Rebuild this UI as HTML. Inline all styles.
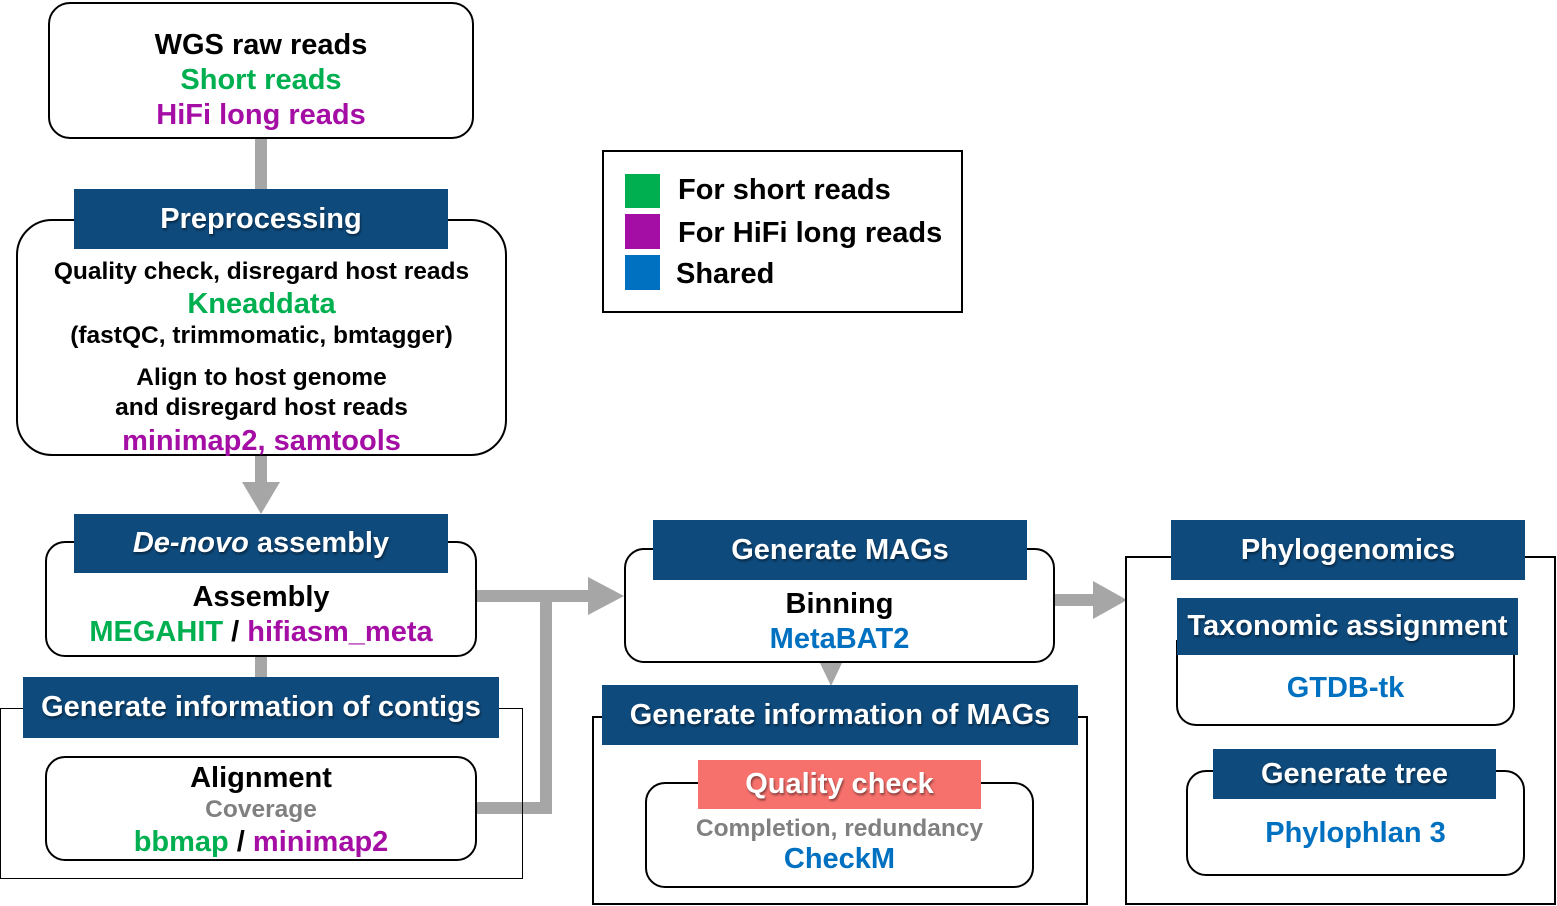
<!DOCTYPE html>
<html><head><style>
body{margin:0;width:1557px;height:906px;background:#fff;position:relative;overflow:hidden;font-family:"Liberation Sans",Arial,sans-serif;font-weight:bold}
.a{position:absolute;box-sizing:border-box}
.rb{border:2px solid #000;background:#fff}
.h{background:#0e4a7c;color:#fff;text-align:center;font-size:29px;text-shadow:1px 2px 2px rgba(0,0,0,.45);display:flex;align-items:center;justify-content:center;white-space:nowrap}
.t{position:absolute;left:0;right:0;text-align:center;white-space:nowrap;line-height:1}
.g{color:#00b050}.p{color:#a50ea5}.b{color:#0070c0}.gr{color:#808080}
.s27{font-size:29px}.s22{font-size:24.5px}
</style></head><body>
<svg class="a" style="left:0;top:0" width="1557" height="906">
<g fill="#a6a6a6">
<rect x="255" y="139" width="12" height="52"/>
<rect x="255" y="456" width="12" height="30"/>
<polygon points="242,482 280,482 261,514"/>
<rect x="255" y="657" width="12" height="22"/>
<rect x="477" y="590" width="115" height="12"/>
<polygon points="588,577 588,615 624,596"/>
<rect x="540" y="596" width="12" height="218"/>
<rect x="477" y="802" width="75" height="12"/>
<rect x="1055" y="594" width="40" height="12"/>
<polygon points="1093,581 1093,619 1127,600"/>
<polygon points="820,663 842,663 831,686"/>
</g></svg>

<div class="a rb" style="left:48px;top:2px;width:426px;height:137px;border-radius:22px">
<div class="t s27" style="top:27px">WGS raw reads</div>
<div class="t s27 g" style="top:62px">Short reads</div>
<div class="t s27 p" style="top:97px">HiFi long reads</div></div>

<div class="a rb" style="left:16px;top:219px;width:491px;height:237px;border-radius:36px">
<div class="t s22" style="top:39px">Quality check, disregard host reads</div>
<div class="t s27 g" style="top:69px">Kneaddata</div>
<div class="t s22" style="top:103px">(fastQC, trimmomatic, bmtagger)</div>
<div class="t s22" style="top:145px">Align to host genome</div>
<div class="t s22" style="top:175px">and disregard host reads</div>
<div class="t s27 p" style="top:206px">minimap2, samtools</div></div>
<div class="a h" style="left:74px;top:189px;width:374px;height:60px">Preprocessing</div>

<div class="a rb" style="left:45px;top:541px;width:432px;height:116px;border-radius:20px">
<div class="t s27" style="top:40px">Assembly</div>
<div class="t s27" style="top:75px"><span class="g">MEGAHIT</span> / <span class="p">hifiasm_meta</span></div></div>
<div class="a h" style="left:74px;top:514px;width:374px;height:59px"><i>De-novo</i>&nbsp;assembly</div>

<div class="a" style="left:0;top:708px;width:523px;height:171px;border:1px solid #000"></div>
<div class="a h" style="left:23px;top:677px;width:476px;height:61px">Generate information of contigs</div>
<div class="a rb" style="left:45px;top:756px;width:432px;height:105px;border-radius:20px">
<div class="t s27" style="top:6px">Alignment</div>
<div class="t s22 gr" style="top:40px">Coverage</div>
<div class="t s27" style="top:70px"><span class="g">bbmap</span> / <span class="p">minimap2</span></div></div>

<div class="a rb" style="left:624px;top:548px;width:431px;height:115px;border-radius:20px">
<div class="t s27" style="top:40px">Binning</div>
<div class="t s27 b" style="top:75px">MetaBAT2</div></div>
<div class="a h" style="left:653px;top:520px;width:374px;height:60px">Generate MAGs</div>

<div class="a" style="left:592px;top:716px;width:496px;height:189px;border:2px solid #000"></div>
<div class="a h" style="left:602px;top:685px;width:476px;height:60px">Generate information of MAGs</div>
<div class="a rb" style="left:645px;top:782px;width:389px;height:106px;border-radius:20px">
<div class="t s22 gr" style="top:33px">Completion, redundancy</div>
<div class="t s27 b" style="top:61px">CheckM</div></div>
<div class="a h" style="left:698px;top:760px;width:283px;height:49px;background:#f6716c">Quality check</div>

<div class="a" style="left:1125px;top:556px;width:431px;height:349px;border:2px solid #000"></div>
<div class="a h" style="left:1171px;top:520px;width:354px;height:60px">Phylogenomics</div>
<div class="a rb" style="left:1176px;top:640px;width:339px;height:86px;border-radius:0 0 20px 20px;border-top:none">
<div class="t s27 b" style="top:34px">GTDB-tk</div></div>
<div class="a h" style="left:1177px;top:598px;width:341px;height:57px">Taxonomic assignment</div>
<div class="a rb" style="left:1186px;top:770px;width:339px;height:106px;border-radius:20px">
<div class="t s27 b" style="top:47px">Phylophlan 3</div></div>
<div class="a h" style="left:1213px;top:749px;width:283px;height:50px">Generate tree</div>

<div class="a" style="left:602px;top:150px;width:361px;height:163px;border:2px solid #000"></div>
<div class="a" style="left:625px;top:174px;width:35px;height:34px;background:#00b050"></div>
<div class="a" style="left:625px;top:214px;width:35px;height:35px;background:#a50ea5"></div>
<div class="a" style="left:625px;top:255px;width:35px;height:35px;background:#0070c0"></div>
<div class="a s27" style="left:678px;top:174px">For short reads</div>
<div class="a s27" style="left:678px;top:217px">For HiFi long reads</div>
<div class="a s27" style="left:676px;top:258px">Shared</div>
</body></html>
